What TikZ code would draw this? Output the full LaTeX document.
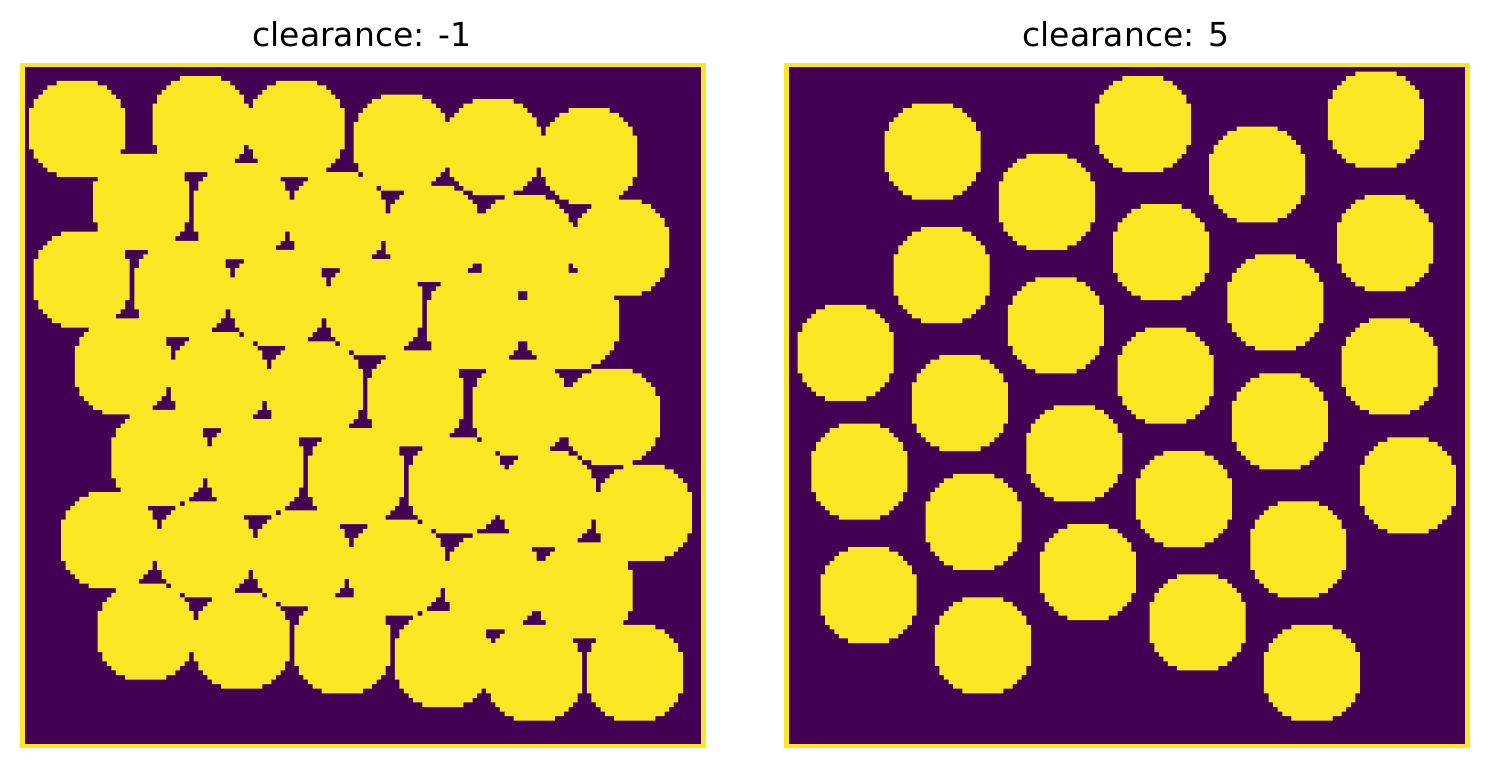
\documentclass[tikz,border=0pt]{standalone}
\usepackage{fontspec}
\setmainfont{DejaVu Sans}
\definecolor{viridislow}{RGB}{68,1,84}
\definecolor{viridishigh}{RGB}{253,231,37}
% stepped outline of one disc on the pixel grid (x^2+y^2<121), drawn from its top left corner
\def\discoutline{-- ++(9,0) -- ++(0,1) -- ++(2,0) -- ++(0,1) -- ++(1,0) -- ++(0,1) -- ++(1,0) -- ++(0,1)
  -- ++(1,0) -- ++(0,2) -- ++(1,0) -- ++(0,9) -- ++(-1,0) -- ++(0,2) -- ++(-1,0) -- ++(0,1) -- ++(-1,0)
  -- ++(0,1) -- ++(-1,0) -- ++(0,1) -- ++(-2,0) -- ++(0,1) -- ++(-9,0) -- ++(0,-1) -- ++(-2,0) -- ++(0,-1)
  -- ++(-1,0) -- ++(0,-1) -- ++(-1,0) -- ++(0,-1) -- ++(-1,0) -- ++(0,-2) -- ++(-1,0) -- ++(0,-9)
  -- ++(1,0) -- ++(0,-2) -- ++(1,0) -- ++(0,-1) -- ++(1,0) -- ++(0,-1) -- ++(1,0) -- ++(0,-1) -- ++(2,0) -- cycle}

\begin{document}
\begin{tikzpicture}[x=0.5pt,y=-0.5pt,
    paneltitle/.style={anchor=base,font=\fontsize{16.5}{20}\selectfont},
    discfill/.style={fill=viridishigh}]
\useasboundingbox (0,0) rectangle (1489,768);
\fill[white] (0,0) rectangle (1489,768);

% size of one image pixel
\def\pix{2.2855pt}

% titles
\node[paneltitle] (lefttitle) at (362,46) {clearance: -1};
\node[paneltitle] (righttitle) at (1126,46) {clearance: 5};

% left image: 150 x 150 pixels, discs overlap by one pixel
\begin{scope}[shift={(20,62.5)},x=\pix,y=-\pix]
  \fill[viridishigh] (0,0) rectangle (150,150);
  \fill[viridislow] (1,1) rectangle (149,149);
  \fill[discfill] \foreach \i/\j in {12/14,39/13,60/14,83/17,103/18,124/20,
      26/30,48/32,69/34,90/37,110/39,131/40,
      13/47,35/49,56/51,77/53,99/56,120/56,
      22/66,43/69,64/71,86/73,109/75,129/77,
      30/86,51/88,73/90,95/92,115/95,136/98,
      19/104,40/106,61/108,82/110,103/113,123/115,
      27/124,48/126,70/127,92/130,112/133,134/133}
    {(\i-4,\j-10) \discoutline};
\end{scope}

% right image: discs kept 5 pixels apart
\begin{scope}[shift={(784,62.5)},x=\pix,y=-\pix]
  \fill[viridishigh] (0,0) rectangle (150,150);
  \fill[viridislow] (1,1) rectangle (149,149);
  \fill[discfill] \foreach \i/\j in {32/19,78/13,129/12,57/30,103/24,34/46,82/41,131/39,
      59/57,107/52,13/63,38/74,83/68,132/66,63/85,108/78,16/89,41/100,87/95,136/92,
      66/111,112/106,18/116,43/127,90/122,115/133}
    {(\i-4,\j-10) \discoutline};
\end{scope}
\end{tikzpicture}
\end{document}
